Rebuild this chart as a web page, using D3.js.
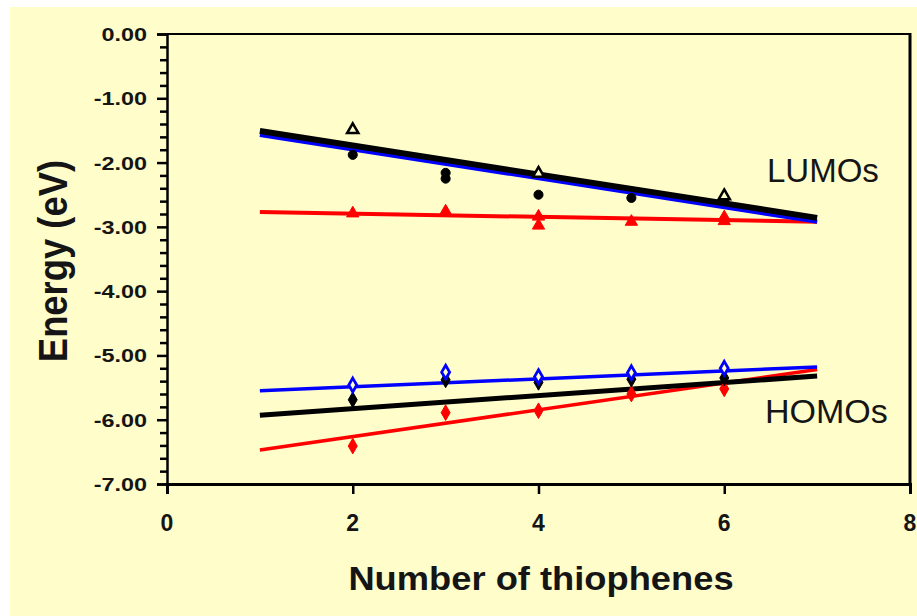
<!DOCTYPE html>
<html>
<head>
<meta charset="utf-8">
<script src="https://cdn.jsdelivr.net/npm/d3@7/dist/d3.min.js"></script>
<style>
  html, body { margin: 0; padding: 0; background: #ffffff; }
  svg { display: block; }
</style>
</head>
<body>
<svg id="chart" width="917" height="616"></svg>
<script>
// Frontier orbital energies vs. oligothiophene length
const xTicks = [0, 2, 4, 6, 8];
const yTicks = [0, -1, -2, -3, -4, -5, -6, -7];
const yTickLabels = ["0.00", "-1.00", "-2.00", "-3.00", "-4.00", "-5.00", "-6.00", "-7.00"];

// LUMO values (eV)
const lumoOpenX = [2, 4, 6];
const lumoOpen = [-1.49, -2.17, -2.52];
const lumoBlackX = [2, 3, 3, 4, 5, 6];
const lumoBlack = [-1.88, -2.16, -2.25, -2.50, -2.55, -2.60];
const lumoRedX = [2, 3, 4, 4, 5, 6, 6];
const lumoRed = [-2.79, -2.76, -2.84, -2.98, -2.92, -2.85, -2.91];

// HOMO values (eV)
const homoX = [2, 3, 4, 5, 6];
const homoBlue = [-5.46, -5.26, -5.33, -5.27, -5.20];
const homoBlack = [-5.69, -5.38, -5.42, -5.37, -5.35];
const homoRed = [-6.41, -5.89, -5.86, -5.60, -5.52];

// Linear fits, evaluated at n = 1 and n = 7
const fitX = [1, 7];
const lumoFitBlue = [-1.57, -2.92];
const lumoFitBlack = [-1.51, -2.86];
const lumoFitRed = [-2.77, -2.92];
const homoFitBlue = [-5.55, -5.18];
const homoFitBlack = [-5.93, -5.32];
const homoFitRed = [-6.47, -5.22];

const svg = d3.select("#chart");
const W = 917, H = 616;
const BG = "#fffdca";

svg.append("rect").attr("x", 10).attr("y", 7).attr("width", W - 10).attr("height", H - 7).attr("fill", BG);

const x = d3.scaleLinear().domain([0, 8]).range([167, 910]);
const y = d3.scaleLinear().domain([-7, 0]).range([484, 34]);

const FONT = "'Liberation Sans', Arial, Helvetica, sans-serif";

// stretch a text node horizontally by factor k (along its own baseline)
function stretch(sel, k) {
  sel.each(function () {
    const len = this.getComputedTextLength();
    d3.select(this).attr("textLength", len * k).attr("lengthAdjust", "spacingAndGlyphs");
  });
}

// frame: top and right edges
svg.append("line").attr("x1", x(0)).attr("x2", x(8)).attr("y1", y(0)).attr("y2", y(0))
  .attr("stroke", "#000").attr("stroke-width", 2);
svg.append("line").attr("x1", x(8)).attr("x2", x(8)).attr("y1", y(0) - 1).attr("y2", y(-7))
  .attr("stroke", "#000").attr("stroke-width", 3);

// y axis with major and minor ticks
const yAxis = d3.axisLeft(y).tickValues(yTicks).tickSize(10).tickFormat("");
const gy = svg.append("g").attr("transform", `translate(${x(0)},0)`).call(yAxis);
gy.select(".domain").attr("stroke-width", 2.5);
gy.selectAll(".tick line").attr("stroke-width", 2.5);
const minor = d3.range(-7, 0.001, 0.2).map(v => +v.toFixed(1)).filter(v => Math.abs(v - Math.round(v)) > 0.01);
const gyMinor = svg.append("g").attr("transform", `translate(${x(0)},0)`)
  .call(d3.axisLeft(y).tickValues(minor).tickSize(7).tickFormat(""));
gyMinor.select(".domain").remove();
gyMinor.selectAll(".tick line").attr("stroke-width", 2.5);

svg.append("g").selectAll("text").data(yTicks).join("text")
  .attr("x", 147).attr("y", d => y(d) + 7)
  .attr("text-anchor", "end")
  .attr("font-family", FONT).attr("font-weight", "bold").attr("font-size", 18)
  .attr("fill", "#151515")
  .text((d, i) => yTickLabels[i])
  .call(stretch, 1.3);

// x axis
const xAxis = d3.axisBottom(x).tickValues(xTicks).tickSize(10).tickFormat("");
const gx = svg.append("g").attr("transform", `translate(0,${y(-7)})`).call(xAxis);
gx.select(".domain").attr("stroke-width", 3);
gx.selectAll(".tick line").attr("stroke-width", 2.5);
svg.append("g").selectAll("text").data(xTicks).join("text")
  .attr("x", d => x(d)).attr("y", 531)
  .attr("text-anchor", "middle")
  .attr("font-family", FONT).attr("font-weight", "bold").attr("font-size", 23)
  .attr("fill", "#151515")
  .text(d => d);

// axis titles
svg.append("text")
  .attr("x", 541).attr("y", 590)
  .attr("text-anchor", "middle")
  .attr("font-family", FONT).attr("font-weight", "bold").attr("font-size", 33)
  .attr("fill", "#151515")
  .text("Number of thiophenes")
  .call(stretch, 1.1);

svg.append("text")
  .attr("transform", "translate(67,261) rotate(-90)")
  .attr("text-anchor", "middle")
  .attr("font-family", FONT).attr("font-weight", "bold").attr("font-size", 40)
  .attr("fill", "#151515")
  .text("Energy (eV)")
  .call(stretch, 0.91);

// fit lines
function fitLine(vals, color, width) {
  svg.append("line")
    .attr("x1", x(fitX[0])).attr("y1", y(vals[0]))
    .attr("x2", x(fitX[1])).attr("y2", y(vals[1]))
    .attr("stroke", color).attr("stroke-width", width);
}

// markers
function markers(xs, vals, type, size, fill, stroke, sw) {
  svg.append("g").selectAll("path").data(vals).join("path")
    .attr("transform", (d, i) => `translate(${x(xs[i])},${y(d)})`)
    .attr("d", d3.symbol().type(type).size(size))
    .attr("fill", fill).attr("stroke", stroke).attr("stroke-width", sw);
}

// LUMO group
fitLine(lumoFitRed, "#ff0000", 4);
fitLine(lumoFitBlue, "#0000ff", 4);
fitLine(lumoFitBlack, "#000000", 6);
markers(lumoRedX, lumoRed, d3.symbolTriangle, 65, "#ff0000", "#ff0000", 1);
markers(lumoBlackX, lumoBlack, d3.symbolCircle, 65, "#000", "#000", 1);
markers(lumoOpenX, lumoOpen, d3.symbolTriangle, 55, BG, "#000", 2.5);

// HOMO group
fitLine(homoFitRed, "#ff0000", 3.5);
fitLine(homoFitBlack, "#000000", 5);
fitLine(homoFitBlue, "#0000ff", 3.5);
markers(homoX, homoRed, d3.symbolDiamond, 70, "#ff0000", "#ff0000", 1);
markers(homoX, homoBlack, d3.symbolDiamond, 70, "#000", "#000", 1);
markers(homoX, homoBlue, d3.symbolDiamond, 55, BG, "#0000ff", 2.8);

// group labels
svg.append("text").attr("x", 767).attr("y", 182)
  .attr("font-family", FONT).attr("font-size", 33).attr("fill", "#151515")
  .text("LUMOs");
svg.append("text").attr("x", 765).attr("y", 423)
  .attr("font-family", FONT).attr("font-size", 34).attr("fill", "#151515")
  .text("HOMOs");
</script>
</body>
</html>
